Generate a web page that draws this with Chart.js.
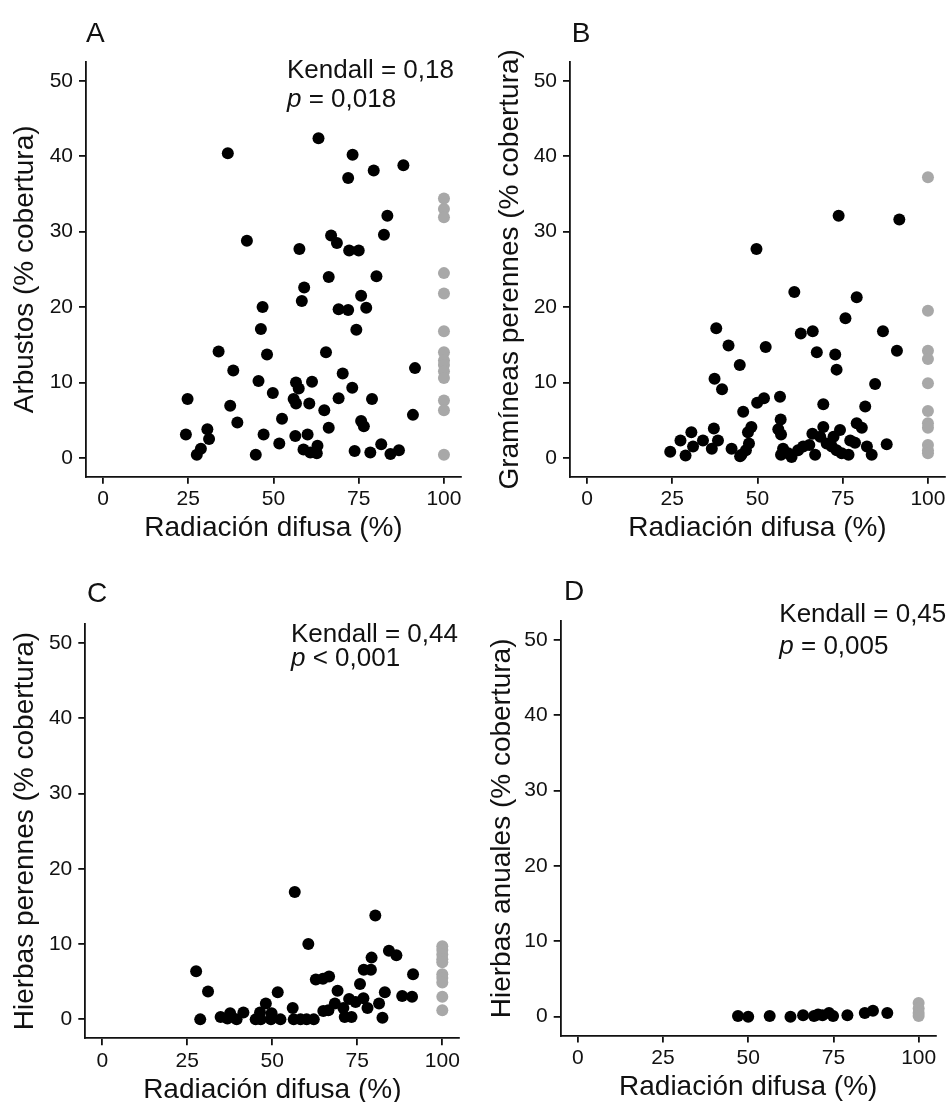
<!DOCTYPE html>
<html>
<head>
<meta charset="utf-8">
<script src="https://cdn.jsdelivr.net/npm/chart.js@4.4.1/dist/chart.umd.min.js"></script>
<style>
  html, body { margin: 0; padding: 0; background: #fff; }
  body { width: 947px; height: 1102px; overflow: hidden; position: relative; }
  canvas { position: absolute; }
</style>
</head>
<body>
<canvas id="panel-a"></canvas>
<canvas id="panel-b"></canvas>
<canvas id="panel-c"></canvas>
<canvas id="panel-d"></canvas>
<script>
// x ticks and y ticks shared by all panels
const xTicks = [0, 25, 50, 75, 100];
const yTicks = [0, 10, 20, 30, 40, 50];
// open sites (gray) all sit at 100 % diffuse radiation
const openSiteX = 100;

// A - Arbustos
const arbX = [36.6, 63.2, 73.2, 71.9, 79.4, 88.1, 83.4, 82.4, 42.2, 57.6, 66.9, 68.6, 72.2, 75.0, 66.2, 80.2, 59.0, 75.7,
  58.3, 46.8, 69.1, 71.9, 77.2, 46.3, 74.3, 33.9, 65.4, 48.1, 38.2, 91.5, 70.3, 45.6, 56.6, 61.3, 57.4, 73.1, 49.8, 24.8,
  55.9, 56.6, 60.5, 69.1, 78.9, 37.3, 64.9, 90.9, 52.5, 39.4, 75.7, 76.5, 66.2, 30.6, 31.1, 24.3, 47.1, 56.4, 60.0, 51.7,
  28.7, 27.5, 44.8, 58.8, 60.8, 62.9, 62.7, 73.8, 78.4, 81.6, 84.3, 86.8];
const arbY = [40.4, 42.4, 40.2, 37.1, 38.1, 38.8, 32.1, 29.6, 28.8, 27.7, 29.5, 28.5, 27.5, 27.5, 24.0, 24.1, 22.6, 21.5,
  20.8, 20.0, 19.7, 19.6, 19.9, 17.1, 17.0, 14.1, 14.0, 13.7, 11.6, 11.9, 11.2, 10.2, 10.0, 10.1, 9.2, 9.3, 8.6, 7.8,
  7.8, 7.2, 7.2, 7.9, 7.8, 6.9, 6.3, 5.7, 5.2, 4.7, 4.9, 4.2, 4.0, 3.8, 2.5, 3.1, 3.1, 2.9, 3.1, 1.9,
  1.2, 0.4, 0.4, 1.1, 0.7, 1.6, 0.6, 0.9, 0.7, 1.8, 0.5, 1.0];
const arbOpen = [34.4, 33.0, 31.9, 24.5, 21.8, 16.8, 14.0, 12.9, 12.3, 11.5, 10.6, 7.6, 6.3, 0.4];

// B - Gramíneas perennes
const graX = [49.7, 73.8, 91.6, 60.8, 79.1, 75.8, 37.9, 62.7, 66.2, 86.8, 41.5, 52.4, 67.4, 72.8, 90.9, 73.2, 44.8, 37.4,
  39.6, 84.5, 49.9, 51.9, 56.6, 69.3, 81.6, 45.8, 56.8, 79.1, 80.6, 48.2, 47.2, 56.1, 56.9, 37.2, 69.3, 74.2, 66.1, 30.6,
  27.4, 34.0, 38.4, 31.1, 36.6, 42.4, 24.4, 28.9, 47.5, 46.6, 45.3, 44.9, 57.5, 59.0, 60.0, 56.9, 61.9, 63.4, 65.2, 66.9,
  68.4, 70.3, 71.8, 72.3, 73.2, 74.7, 76.7, 77.2, 78.6, 82.1, 83.5, 87.9];
const graY = [27.7, 32.1, 31.6, 22.0, 21.3, 18.5, 17.2, 16.5, 16.8, 16.8, 14.9, 14.7, 14.0, 13.7, 14.2, 11.7, 12.3, 10.5,
  9.1, 9.8, 7.3, 7.9, 8.1, 7.1, 6.8, 6.1, 5.1, 4.6, 4.0, 4.1, 3.4, 3.8, 3.1, 3.9, 4.1, 3.7, 3.2, 3.4,
  2.3, 2.3, 2.3, 1.5, 1.2, 1.2, 0.8, 0.3, 1.9, 1.0, 0.4, 0.2, 1.2, 0.6, 0.1, 0.4, 1.0, 1.5, 1.7, 0.4,
  2.8, 1.9, 1.5, 2.8, 1.0, 0.6, 0.4, 2.3, 2.0, 1.5, 0.4, 1.8];
const graOpen = [37.2, 19.5, 14.2, 13.1, 9.9, 6.2, 4.6, 4.0, 1.7, 1.0, 0.6];

// C - Hierbas perennes
const hpeX = [56.6, 80.3, 60.6, 84.3, 86.5, 79.2, 76.9, 79.0, 27.6, 91.4, 62.8, 64.9, 66.7, 75.8, 31.1, 51.6, 69.2, 83.1,
  88.2, 91.1, 72.6, 74.5, 76.8, 48.1, 68.4, 81.4, 78.0, 70.9, 56.0, 65.0, 66.5, 41.5, 37.6, 46.4, 49.8, 71.3, 73.3, 82.4,
  28.8, 34.8, 36.8, 39.5, 45.1, 46.6, 49.6, 52.4, 56.3, 58.3, 60.1, 62.2];
const hpeY = [16.9, 13.8, 10.0, 9.1, 8.5, 8.2, 6.6, 6.6, 6.4, 6.0, 5.3, 5.4, 5.7, 4.7, 3.7, 3.6, 3.8, 3.6,
  3.1, 3.0, 2.7, 2.3, 2.8, 2.1, 2.1, 2.1, 1.5, 1.5, 1.5, 1.1, 1.2, 0.9, 0.8, 0.9, 0.8, 0.3, 0.3, 0.2,
  0.0, 0.3, 0.1, 0.0, 0.0, 0.0, 0.0, 0.0, 0.0, 0.0, 0.0, 0.0];
const hpeOpen = [9.7, 9.2, 8.6, 8.0, 7.6, 6.0, 5.5, 4.9, 3.0, 1.2];

// D - Hierbas anuales
const hanX = [47.0, 50.0, 56.3, 62.4, 66.1, 69.3, 70.5, 71.8, 73.7, 74.9, 79.1, 84.2, 86.6, 90.8];
const hanY = [0.1, 0.0, 0.1, 0.0, 0.2, 0.1, 0.3, 0.2, 0.5, 0.1, 0.2, 0.5, 0.8, 0.5];
const hanOpen = [1.8, 1.1, 0.5, 0.1];

const FONT = 'Liberation Sans, Arial, sans-serif';

const panels = [
  { id: 'panel-a', letter: 'A', yLabel: 'Arbustos (% cobertura)', xs: arbX, ys: arbY, open: arbOpen,
    note: ['0,18', '= 0,018'],
    box: { left: 0, top: 0, w: 473, h: 552, padTop: 62, padRight: 12, yW: 86, xH: 75.3, yTitle: 8.5, xTitle: 6.6,
           letterX: 86, letterY: 42, noteX: 287, noteY1: 78, noteY2: 107 } },
  { id: 'panel-b', letter: 'B', yLabel: 'Gramíneas perennes (% cobertura)', xs: graX, ys: graY, open: graOpen,
    note: null,
    box: { left: 473, top: 0, w: 487, h: 552, padTop: 62, padRight: 15, yW: 97, xH: 75.3, yTitle: 20.5, xTitle: 6.6,
           letterX: 98.7, letterY: 42 } },
  { id: 'panel-c', letter: 'C', yLabel: 'Hierbas perennes (% cobertura)', xs: hpeX, ys: hpeY, open: hpeOpen,
    note: ['0,44', '< 0,001'],
    box: { left: 0, top: 552, w: 473, h: 570, padTop: 72, padRight: 13.7, yW: 85.3, xH: 83.8, yTitle: 8.5, xTitle: 14.9,
           letterX: 87, letterY: 50, noteX: 291, noteY1: 90, noteY2: 114 } },
  { id: 'panel-d', letter: 'D', yLabel: 'Hierbas anuales (% cobertura)', xs: hanX, ys: hanY, open: hanOpen,
    note: ['0,45', '= 0,005'],
    box: { left: 473, top: 552, w: 487, h: 570, padTop: 69.2, padRight: 24.3, yW: 87.7, xH: 86.5, yTitle: 12.2, xTitle: 18.2,
           letterX: 91, letterY: 48, noteX: 306.3, noteY1: 70, noteY2: 102 } }
];

// panel letter + Kendall annotation
const annotate = {
  id: 'annotate',
  afterDraw(chart, args, opts) {
    const p = opts.panel, b = p.box, ctx = chart.ctx;
    ctx.save();
    ctx.fillStyle = '#111';
    ctx.textBaseline = 'alphabetic';
    ctx.textAlign = 'left';
    ctx.font = '28px ' + FONT;
    ctx.fillText(p.letter, b.letterX, b.letterY);
    if (p.note) {
      ctx.font = '26px ' + FONT;
      ctx.fillText('Kendall = ' + p.note[0], b.noteX, b.noteY1);
      ctx.font = 'italic 26px ' + FONT;
      ctx.fillText('p', b.noteX, b.noteY2);
      const w = ctx.measureText('p ').width;
      ctx.font = '26px ' + FONT;
      ctx.fillText(p.note[1], b.noteX + w, b.noteY2);
    }
    ctx.restore();
  }
};

function axisStyle(extra) {
  return Object.assign({
    type: 'linear',
    grid: { drawOnChartArea: false, drawTicks: true, tickLength: 7, color: '#111', lineWidth: 1.8 },
    border: { display: true, color: '#111', width: 1.8 },
  }, extra);
}

panels.forEach(p => {
  const b = p.box;
  const cv = document.getElementById(p.id);
  cv.width = b.w; cv.height = b.h;
  cv.style.left = b.left + 'px'; cv.style.top = b.top + 'px';
  cv.style.width = b.w + 'px'; cv.style.height = b.h + 'px';

  const shaded = p.xs.map((x, i) => ({ x: x, y: p.ys[i] }));
  const open = p.open.map(y => ({ x: openSiteX, y: y }));

  new Chart(cv.getContext('2d'), {
    type: 'scatter',
    data: {
      datasets: [
        { data: shaded, backgroundColor: '#000', borderWidth: 0, pointRadius: 6, pointHoverRadius: 6 },
        { data: open, backgroundColor: '#a8a8a8', borderWidth: 0, pointRadius: 6, pointHoverRadius: 6 }
      ]
    },
    options: {
      responsive: false,
      animation: false,
      devicePixelRatio: 1,
      events: [],
      layout: { padding: { left: 0, top: b.padTop, right: b.padRight, bottom: 0 } },
      plugins: { legend: { display: false }, tooltip: { enabled: false }, annotate: { panel: p } },
      scales: {
        x: axisStyle({
          min: -5, max: 105,
          afterBuildTicks: s => { s.ticks = xTicks.map(v => ({ value: v })); },
          afterFit: s => { s.height = b.xH; },
          ticks: { color: '#111', font: { family: FONT, size: 21 }, padding: 3, maxRotation: 0, autoSkip: false },
          title: { display: true, text: 'Radiación difusa (%)', color: '#111',
                   font: { family: FONT, size: 28 }, padding: { top: 0, bottom: b.xTitle } }
        }),
        y: axisStyle({
          min: -2.5, max: 52.5,
          afterBuildTicks: s => { s.ticks = yTicks.map(v => ({ value: v })); },
          afterFit: s => { s.width = b.yW; },
          ticks: { color: '#111', font: { family: FONT, size: 21 }, padding: 6 },
          title: { display: true, text: p.yLabel, color: '#111',
                   font: { family: FONT, size: 28 }, padding: { top: b.yTitle, bottom: 0 } }
        })
      }
    },
    plugins: [annotate]
  });
});
</script>
</body>
</html>
